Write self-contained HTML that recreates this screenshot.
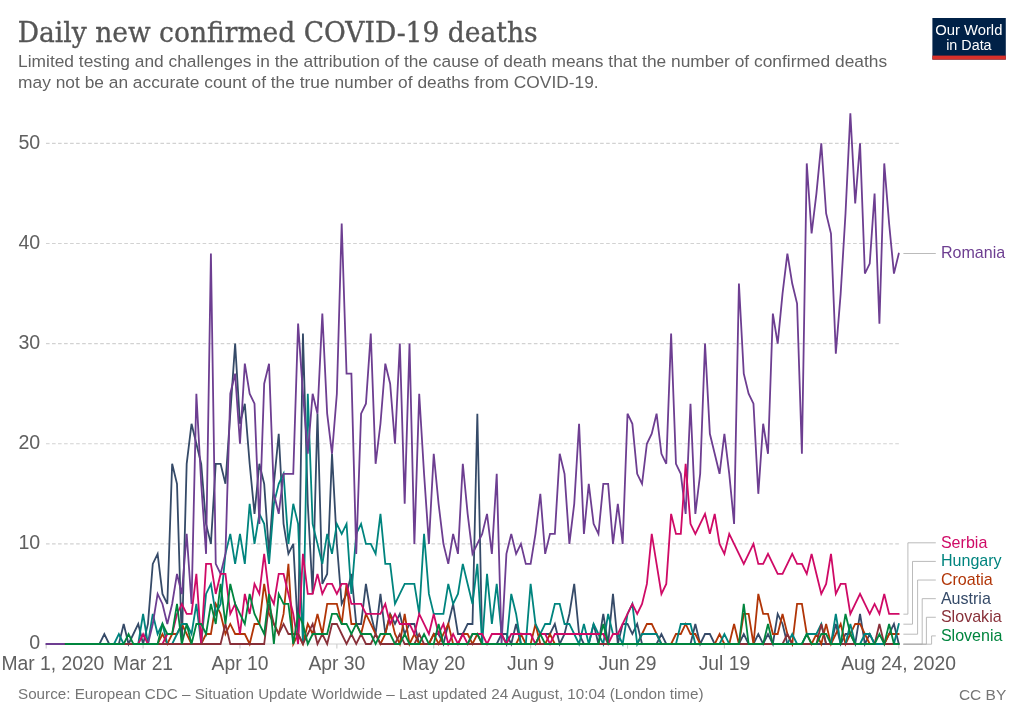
<!DOCTYPE html>
<html lang="en">
<head>
<meta charset="utf-8">
<title>Daily new confirmed COVID-19 deaths</title>
<style>
html,body{margin:0;padding:0;background:#fff;}
body{width:1024px;height:722px;overflow:hidden;}
svg{display:block;}
.sans{font-family:"Liberation Sans","DejaVu Sans",sans-serif;}
.serif{font-family:"DejaVu Serif","Liberation Serif",serif;}
</style>
</head>
<body>
<svg width="1024" height="722" viewBox="0 0 1024 722">
<rect x="0" y="0" width="1024" height="722" fill="#ffffff"/>
<text class="serif" x="17.7" y="42.3" font-size="28.6" fill="#555555" stroke="#555555" stroke-width="0.35" textLength="520" lengthAdjust="spacingAndGlyphs">Daily new confirmed COVID-19 deaths</text>
<text class="sans" x="18.1" y="67" font-size="17.1" fill="#626262" textLength="869" lengthAdjust="spacingAndGlyphs">Limited testing and challenges in the attribution of the cause of death means that the number of confirmed deaths</text>
<text class="sans" x="18.1" y="87.7" font-size="17.1" fill="#626262" textLength="580.6" lengthAdjust="spacingAndGlyphs">may not be an accurate count of the true number of deaths from COVID-19.</text>
<g>
<rect x="932.4" y="18" width="73.4" height="41.6" fill="#002147"/>
<rect x="932.4" y="55.6" width="73.4" height="4" fill="#d8302a"/>
<text class="sans" x="935.2" y="35.2" font-size="15.4" fill="#ffffff" textLength="67.2" lengthAdjust="spacingAndGlyphs">Our World</text>
<text class="sans" x="946.2" y="50.4" font-size="15.4" fill="#ffffff" textLength="45.4" lengthAdjust="spacingAndGlyphs">in Data</text>
</g>
<g class="sans" font-size="19.6" fill="#606060" text-anchor="end">
<text x="40.2" y="649.4">0</text>
<line x1="46" y1="543.88" x2="899" y2="543.88" stroke="#d2d2d2" stroke-width="1.2" stroke-dasharray="3.614,2.409"/>
<text x="40.2" y="549.28">10</text>
<line x1="46" y1="443.76" x2="899" y2="443.76" stroke="#d2d2d2" stroke-width="1.2" stroke-dasharray="3.614,2.409"/>
<text x="40.2" y="449.16">20</text>
<line x1="46" y1="343.64" x2="899" y2="343.64" stroke="#d2d2d2" stroke-width="1.2" stroke-dasharray="3.614,2.409"/>
<text x="40.2" y="349.04">30</text>
<line x1="46" y1="243.52" x2="899" y2="243.52" stroke="#d2d2d2" stroke-width="1.2" stroke-dasharray="3.614,2.409"/>
<text x="40.2" y="248.92">40</text>
<line x1="46" y1="143.4" x2="899" y2="143.4" stroke="#d2d2d2" stroke-width="1.2" stroke-dasharray="3.614,2.409"/>
<text x="40.2" y="148.8">50</text>
</g>
<line x1="46" y1="644" x2="899" y2="644" stroke="#d0d0d0" stroke-width="1"/>
<g class="sans" font-size="19.3" fill="#606060" text-anchor="middle">
<line x1="46.2" y1="644" x2="46.2" y2="648.6" stroke="#cccccc" stroke-width="1.1"/>
<text x="52.9" y="669.7">Mar 1, 2020</text>
<line x1="143.09" y1="644" x2="143.09" y2="648.6" stroke="#cccccc" stroke-width="1.1"/>
<text x="143.09" y="669.7">Mar 21</text>
<line x1="239.97" y1="644" x2="239.97" y2="648.6" stroke="#cccccc" stroke-width="1.1"/>
<text x="239.97" y="669.7">Apr 10</text>
<line x1="336.86" y1="644" x2="336.86" y2="648.6" stroke="#cccccc" stroke-width="1.1"/>
<text x="336.86" y="669.7">Apr 30</text>
<line x1="433.74" y1="644" x2="433.74" y2="648.6" stroke="#cccccc" stroke-width="1.1"/>
<text x="433.74" y="669.7">May 20</text>
<line x1="530.63" y1="644" x2="530.63" y2="648.6" stroke="#cccccc" stroke-width="1.1"/>
<text x="530.63" y="669.7">Jun 9</text>
<line x1="627.52" y1="644" x2="627.52" y2="648.6" stroke="#cccccc" stroke-width="1.1"/>
<text x="627.52" y="669.7">Jun 29</text>
<line x1="724.4" y1="644" x2="724.4" y2="648.6" stroke="#cccccc" stroke-width="1.1"/>
<text x="724.4" y="669.7">Jul 19</text>
<line x1="898.8" y1="644" x2="898.8" y2="648.6" stroke="#cccccc" stroke-width="1.1"/>
<text x="898.6" y="669.7">Aug 24, 2020</text>
</g>
<g fill="none" stroke-width="1.8" stroke-linejoin="miter" stroke-miterlimit="4" stroke-linecap="round">
<polyline stroke="#354A68" points="65.58,644 70.42,644 75.27,644 80.11,644 84.95,644 89.8,644 94.64,644 99.49,644 104.33,633.99 109.18,644 114.02,644 118.86,644 123.71,623.98 128.55,644 133.4,633.99 138.24,623.98 143.09,644 147.93,623.98 152.77,563.9 157.62,553.89 162.46,593.94 167.31,603.95 172.15,463.78 177,483.81 181.84,644 186.68,463.78 191.53,423.74 196.37,443.76 201.22,463.78 206.06,523.86 210.91,543.88 215.75,463.78 220.59,463.78 225.44,483.81 230.28,413.72 235.13,343.64 239.97,423.74 244.82,403.71 249.66,463.78 254.5,513.84 259.35,463.78 264.19,483.81 269.04,553.89 273.88,483.81 278.73,433.75 283.57,523.86 288.41,553.89 293.26,543.88 298.1,633.99 302.95,333.63 307.79,503.83 312.64,593.94 317.48,413.72 322.33,583.93 327.17,573.92 332.01,453.77 336.86,543.88 341.7,603.95 346.55,593.94 351.39,573.92 356.24,623.98 361.08,623.98 365.92,583.93 370.77,613.96 375.61,633.99 380.46,593.94 385.3,633.99 390.15,613.96 394.99,623.98 399.83,613.96 404.68,633.99 409.52,623.98 414.37,623.98 419.21,644 424.06,644 428.9,644 433.74,633.99 438.59,633.99 443.43,644 448.28,623.98 453.12,603.95 457.97,633.99 462.81,633.99 467.65,623.98 472.5,623.98 477.34,413.72 482.19,644 487.03,644 491.88,644 496.72,644 501.56,633.99 506.41,633.99 511.25,644 516.1,623.98 520.94,644 525.79,644 530.63,644 535.47,644 540.32,633.99 545.16,633.99 550.01,633.99 554.85,623.98 559.7,644 564.54,633.99 569.38,613.96 574.23,583.93 579.07,633.99 583.92,644 588.76,644 593.61,623.98 598.45,644 603.29,613.96 608.14,644 612.98,593.94 617.83,644 622.67,623.98 627.52,623.98 632.36,633.99 637.2,623.98 642.05,644 646.89,644 651.74,644 656.58,644 661.43,633.99 666.27,644 671.11,644 675.96,644 680.8,644 685.65,644 690.49,644 695.34,623.98 700.18,644 705.02,633.99 709.87,633.99 714.71,644 719.56,644 724.4,644 729.25,644 734.09,644 738.93,644 743.78,633.99 748.62,644 753.47,644 758.31,633.99 763.16,644 768,633.99 772.85,644 777.69,613.96 782.53,623.98 787.38,644 792.22,644 797.07,644 801.91,644 806.76,644 811.6,644 816.44,644 821.29,644 826.13,644 830.98,644 835.82,623.98 840.67,644 845.51,633.99 850.35,633.99 855.2,644 860.04,613.96 864.89,644 869.73,633.99 874.58,644 879.42,644 884.26,644 889.11,633.99 893.95,623.98 898.8,644"/>
<polyline stroke="#B13507" points="65.58,644 70.42,644 75.27,644 80.11,644 84.95,644 89.8,644 94.64,644 99.49,644 104.33,644 109.18,644 114.02,644 118.86,644 123.71,644 128.55,644 133.4,644 138.24,644 143.09,644 147.93,644 152.77,644 157.62,644 162.46,633.99 167.31,644 172.15,633.99 177,633.99 181.84,623.98 186.68,633.99 191.53,644 196.37,644 201.22,644 206.06,633.99 210.91,633.99 215.75,603.95 220.59,613.96 225.44,633.99 230.28,623.98 235.13,633.99 239.97,633.99 244.82,633.99 249.66,644 254.5,623.98 259.35,623.98 264.19,583.93 269.04,613.96 273.88,623.98 278.73,633.99 283.57,613.96 288.41,563.9 293.26,644 298.1,633.99 302.95,644 307.79,623.98 312.64,633.99 317.48,613.96 322.33,633.99 327.17,603.95 332.01,603.95 336.86,603.95 341.7,623.98 346.55,583.93 351.39,623.98 356.24,623.98 361.08,633.99 365.92,613.96 370.77,623.98 375.61,633.99 380.46,644 385.3,633.99 390.15,613.96 394.99,633.99 399.83,644 404.68,613.96 409.52,644 414.37,633.99 419.21,644 424.06,644 428.9,644 433.74,633.99 438.59,644 443.43,633.99 448.28,623.98 453.12,644 457.97,644 462.81,633.99 467.65,633.99 472.5,644 477.34,633.99 482.19,644 487.03,644 491.88,644 496.72,644 501.56,644 506.41,644 511.25,644 516.1,644 520.94,633.99 525.79,644 530.63,644 535.47,623.98 540.32,644 545.16,644 550.01,633.99 554.85,644 559.7,644 564.54,644 569.38,644 574.23,644 579.07,644 583.92,644 588.76,644 593.61,644 598.45,644 603.29,644 608.14,644 612.98,644 617.83,644 622.67,644 627.52,644 632.36,644 637.2,644 642.05,633.99 646.89,623.98 651.74,623.98 656.58,633.99 661.43,644 666.27,644 671.11,644 675.96,633.99 680.8,633.99 685.65,623.98 690.49,633.99 695.34,633.99 700.18,644 705.02,644 709.87,644 714.71,644 719.56,633.99 724.4,644 729.25,644 734.09,623.98 738.93,644 743.78,613.96 748.62,613.96 753.47,644 758.31,593.94 763.16,613.96 768,613.96 772.85,633.99 777.69,633.99 782.53,613.96 787.38,633.99 792.22,644 797.07,603.95 801.91,603.95 806.76,633.99 811.6,644 816.44,633.99 821.29,644 826.13,623.98 830.98,644 835.82,633.99 840.67,623.98 845.51,644 850.35,633.99 855.2,623.98 860.04,623.98 864.89,633.99 869.73,644 874.58,644 879.42,644 884.26,644 889.11,633.99 893.95,633.99 898.8,633.99"/>
<polyline stroke="#00847E" points="65.58,644 70.42,644 75.27,644 80.11,644 84.95,644 89.8,644 94.64,644 99.49,644 104.33,644 109.18,644 114.02,644 118.86,633.99 123.71,644 128.55,644 133.4,644 138.24,644 143.09,613.96 147.93,644 152.77,613.96 157.62,633.99 162.46,623.98 167.31,644 172.15,644 177,633.99 181.84,623.98 186.68,623.98 191.53,633.99 196.37,603.95 201.22,644 206.06,593.94 210.91,583.93 215.75,613.96 220.59,603.95 225.44,553.89 230.28,533.87 235.13,563.9 239.97,533.87 244.82,563.9 249.66,503.83 254.5,543.88 259.35,513.84 264.19,523.86 269.04,563.9 273.88,503.83 278.73,483.81 283.57,473.8 288.41,543.88 293.26,503.83 298.1,523.86 302.95,644 307.79,393.7 312.64,523.86 317.48,543.88 322.33,563.9 327.17,533.87 332.01,553.89 336.86,523.86 341.7,533.87 346.55,523.86 351.39,593.94 356.24,533.87 361.08,523.86 365.92,543.88 370.77,543.88 375.61,553.89 380.46,513.84 385.3,563.9 390.15,563.9 394.99,603.95 399.83,593.94 404.68,583.93 409.52,583.93 414.37,583.93 419.21,613.96 424.06,533.87 428.9,593.94 433.74,613.96 438.59,613.96 443.43,613.96 448.28,583.93 453.12,603.95 457.97,593.94 462.81,563.9 467.65,583.93 472.5,603.95 477.34,563.9 482.19,644 487.03,573.92 491.88,623.98 496.72,583.93 501.56,633.99 506.41,644 511.25,593.94 516.1,613.96 520.94,644 525.79,644 530.63,583.93 535.47,623.98 540.32,633.99 545.16,623.98 550.01,623.98 554.85,603.95 559.7,603.95 564.54,623.98 569.38,623.98 574.23,633.99 579.07,644 583.92,623.98 588.76,644 593.61,623.98 598.45,633.99 603.29,644 608.14,613.96 612.98,633.99 617.83,633.99 622.67,644 627.52,613.96 632.36,603.95 637.2,644 642.05,633.99 646.89,633.99 651.74,633.99 656.58,633.99 661.43,644 666.27,644 671.11,644 675.96,644 680.8,623.98 685.65,623.98 690.49,623.98 695.34,644 700.18,644 705.02,644 709.87,644 714.71,644 719.56,644 724.4,633.99 729.25,644 734.09,644 738.93,644 743.78,644 748.62,644 753.47,644 758.31,644 763.16,644 768,644 772.85,644 777.69,644 782.53,644 787.38,644 792.22,633.99 797.07,644 801.91,644 806.76,633.99 811.6,633.99 816.44,633.99 821.29,623.98 826.13,644 830.98,644 835.82,613.96 840.67,644 845.51,644 850.35,623.98 855.2,644 860.04,644 864.89,633.99 869.73,633.99 874.58,644 879.42,644 884.26,644 889.11,644 893.95,644 898.8,623.98"/>
<polyline stroke="#6D3E91" points="46.2,644 51.04,644 55.89,644 60.73,644 65.58,644 70.42,644 75.27,644 80.11,644 84.95,644 89.8,644 94.64,644 99.49,644 104.33,644 109.18,644 114.02,644 118.86,644 123.71,644 128.55,644 133.4,644 138.24,644 143.09,644 147.93,644 152.77,623.98 157.62,593.94 162.46,603.95 167.31,623.98 172.15,603.95 177,573.92 181.84,593.94 186.68,533.87 191.53,603.95 196.37,393.7 201.22,483.81 206.06,553.89 210.91,253.53 215.75,563.9 220.59,573.92 225.44,553.89 230.28,393.7 235.13,373.68 239.97,443.76 244.82,363.66 249.66,393.7 254.5,403.71 259.35,523.86 264.19,383.69 269.04,363.66 273.88,493.82 278.73,513.84 283.57,473.8 288.41,473.8 293.26,473.8 298.1,323.62 302.95,393.7 307.79,453.77 312.64,393.7 317.48,413.72 322.33,313.6 327.17,413.72 332.01,453.77 336.86,393.7 341.7,223.5 346.55,373.68 351.39,373.68 356.24,553.89 361.08,413.72 365.92,403.71 370.77,333.63 375.61,463.78 380.46,423.74 385.3,363.66 390.15,383.69 394.99,443.76 399.83,343.64 404.68,503.83 409.52,343.64 414.37,543.88 419.21,393.7 424.06,473.8 428.9,543.88 433.74,453.77 438.59,503.83 443.43,543.88 448.28,563.9 453.12,533.87 457.97,553.89 462.81,463.78 467.65,513.84 472.5,553.89 477.34,543.88 482.19,533.87 487.03,513.84 491.88,553.89 496.72,473.8 501.56,644 506.41,553.89 511.25,533.87 516.1,553.89 520.94,543.88 525.79,563.9 530.63,563.9 535.47,533.87 540.32,493.82 545.16,553.89 550.01,533.87 554.85,533.87 559.7,453.77 564.54,473.8 569.38,543.88 574.23,503.83 579.07,423.74 583.92,533.87 588.76,483.81 593.61,523.86 598.45,533.87 603.29,483.81 608.14,483.81 612.98,543.88 617.83,503.83 622.67,543.88 627.52,413.72 632.36,423.74 637.2,473.8 642.05,483.81 646.89,443.76 651.74,433.75 656.58,413.72 661.43,453.77 666.27,463.78 671.11,333.63 675.96,463.78 680.8,473.8 685.65,513.84 690.49,403.71 695.34,513.84 700.18,473.8 705.02,343.64 709.87,433.75 714.71,453.77 719.56,473.8 724.4,433.75 729.25,473.8 734.09,523.86 738.93,283.57 743.78,373.68 748.62,393.7 753.47,403.71 758.31,493.82 763.16,423.74 768,453.77 772.85,313.6 777.69,343.64 782.53,293.58 787.38,253.53 792.22,283.57 797.07,303.59 801.91,453.77 806.76,163.42 811.6,233.51 816.44,193.46 821.29,143.4 826.13,213.48 830.98,233.51 835.82,353.65 840.67,293.58 845.51,213.48 850.35,113.36 855.2,203.47 860.04,143.4 864.89,273.56 869.73,263.54 874.58,193.46 879.42,323.62 884.26,163.42 889.11,223.5 893.95,273.56 898.8,253.53"/>
<polyline stroke="#CF0A66" points="65.58,644 70.42,644 75.27,644 80.11,644 84.95,644 89.8,644 94.64,644 99.49,644 104.33,644 109.18,644 114.02,644 118.86,644 123.71,644 128.55,644 133.4,644 138.24,644 143.09,633.99 147.93,644 152.77,644 157.62,644 162.46,644 167.31,633.99 172.15,633.99 177,613.96 181.84,603.95 186.68,613.96 191.53,613.96 196.37,573.92 201.22,644 206.06,563.9 210.91,563.9 215.75,593.94 220.59,573.92 225.44,573.92 230.28,613.96 235.13,603.95 239.97,633.99 244.82,593.94 249.66,613.96 254.5,583.93 259.35,593.94 264.19,553.89 269.04,593.94 273.88,603.95 278.73,573.92 283.57,573.92 288.41,593.94 293.26,613.96 298.1,644 302.95,553.89 307.79,593.94 312.64,593.94 317.48,573.92 322.33,593.94 327.17,583.93 332.01,583.93 336.86,593.94 341.7,583.93 346.55,583.93 351.39,603.95 356.24,603.95 361.08,603.95 365.92,613.96 370.77,613.96 375.61,613.96 380.46,613.96 385.3,603.95 390.15,623.98 394.99,613.96 399.83,623.98 404.68,623.98 409.52,623.98 414.37,633.99 419.21,613.96 424.06,623.98 428.9,633.99 433.74,613.96 438.59,633.99 443.43,623.98 448.28,644 453.12,633.99 457.97,644 462.81,633.99 467.65,644 472.5,633.99 477.34,633.99 482.19,633.99 487.03,644 491.88,633.99 496.72,633.99 501.56,633.99 506.41,644 511.25,633.99 516.1,633.99 520.94,633.99 525.79,633.99 530.63,633.99 535.47,644 540.32,633.99 545.16,633.99 550.01,644 554.85,633.99 559.7,633.99 564.54,633.99 569.38,633.99 574.23,633.99 579.07,633.99 583.92,633.99 588.76,633.99 593.61,633.99 598.45,633.99 603.29,633.99 608.14,644 612.98,633.99 617.83,633.99 622.67,623.98 627.52,613.96 632.36,603.95 637.2,613.96 642.05,603.95 646.89,583.93 651.74,533.87 656.58,563.9 661.43,593.94 666.27,583.93 671.11,513.84 675.96,533.87 680.8,533.87 685.65,463.78 690.49,523.86 695.34,533.87 700.18,523.86 705.02,513.84 709.87,533.87 714.71,513.84 719.56,543.88 724.4,553.89 729.25,533.87 734.09,543.88 738.93,553.89 743.78,563.9 748.62,553.89 753.47,543.88 758.31,563.9 763.16,563.9 768,553.89 772.85,563.9 777.69,573.92 782.53,573.92 787.38,563.9 792.22,553.89 797.07,563.9 801.91,563.9 806.76,573.92 811.6,553.89 816.44,573.92 821.29,593.94 826.13,583.93 830.98,553.89 835.82,593.94 840.67,583.93 845.51,583.93 850.35,613.96 855.2,603.95 860.04,593.94 864.89,603.95 869.73,613.96 874.58,603.95 879.42,613.96 884.26,593.94 889.11,613.96 893.95,613.96 898.8,613.96"/>
<polyline stroke="#883039" points="65.58,644 70.42,644 75.27,644 80.11,644 84.95,644 89.8,644 94.64,644 99.49,644 104.33,644 109.18,644 114.02,644 118.86,644 123.71,644 128.55,644 133.4,644 138.24,644 143.09,644 147.93,644 152.77,644 157.62,644 162.46,644 167.31,644 172.15,644 177,644 181.84,644 186.68,644 191.53,644 196.37,644 201.22,644 206.06,644 210.91,644 215.75,644 220.59,644 225.44,623.98 230.28,644 235.13,644 239.97,644 244.82,644 249.66,644 254.5,644 259.35,644 264.19,644 269.04,603.95 273.88,623.98 278.73,633.99 283.57,623.98 288.41,633.99 293.26,633.99 298.1,633.99 302.95,644 307.79,633.99 312.64,623.98 317.48,644 322.33,633.99 327.17,644 332.01,623.98 336.86,623.98 341.7,633.99 346.55,644 351.39,633.99 356.24,644 361.08,633.99 365.92,644 370.77,644 375.61,633.99 380.46,644 385.3,644 390.15,644 394.99,644 399.83,633.99 404.68,644 409.52,644 414.37,644 419.21,633.99 424.06,644 428.9,644 433.74,644 438.59,644 443.43,644 448.28,644 453.12,644 457.97,644 462.81,644 467.65,644 472.5,644 477.34,644 482.19,644 487.03,644 491.88,644 496.72,644 501.56,644 506.41,644 511.25,644 516.1,644 520.94,644 525.79,644 530.63,644 535.47,644 540.32,644 545.16,644 550.01,644 554.85,644 559.7,644 564.54,644 569.38,644 574.23,644 579.07,644 583.92,644 588.76,644 593.61,644 598.45,644 603.29,644 608.14,644 612.98,644 617.83,644 622.67,644 627.52,644 632.36,644 637.2,644 642.05,644 646.89,644 651.74,644 656.58,644 661.43,644 666.27,644 671.11,644 675.96,644 680.8,644 685.65,644 690.49,644 695.34,644 700.18,644 705.02,644 709.87,644 714.71,644 719.56,644 724.4,644 729.25,644 734.09,644 738.93,644 743.78,644 748.62,644 753.47,644 758.31,644 763.16,644 768,644 772.85,644 777.69,644 782.53,644 787.38,633.99 792.22,644 797.07,644 801.91,644 806.76,644 811.6,644 816.44,644 821.29,623.98 826.13,644 830.98,644 835.82,644 840.67,644 845.51,644 850.35,644 855.2,644 860.04,644 864.89,644 869.73,644 874.58,644 879.42,623.98 884.26,644 889.11,644 893.95,644 898.8,644"/>
<polyline stroke="#00853E" points="65.58,644 70.42,644 75.27,644 80.11,644 84.95,644 89.8,644 94.64,644 99.49,644 104.33,644 109.18,644 114.02,644 118.86,644 123.71,644 128.55,633.99 133.4,644 138.24,644 143.09,644 147.93,644 152.77,644 157.62,644 162.46,623.98 167.31,633.99 172.15,633.99 177,603.95 181.84,644 186.68,623.98 191.53,644 196.37,623.98 201.22,623.98 206.06,633.99 210.91,603.95 215.75,623.98 220.59,583.93 225.44,623.98 230.28,583.93 235.13,603.95 239.97,613.96 244.82,623.98 249.66,593.94 254.5,613.96 259.35,623.98 264.19,633.99 269.04,593.94 273.88,644 278.73,593.94 283.57,603.95 288.41,603.95 293.26,644 298.1,613.96 302.95,623.98 307.79,644 312.64,633.99 317.48,633.99 322.33,633.99 327.17,633.99 332.01,613.96 336.86,613.96 341.7,623.98 346.55,623.98 351.39,633.99 356.24,623.98 361.08,633.99 365.92,633.99 370.77,633.99 375.61,644 380.46,633.99 385.3,633.99 390.15,633.99 394.99,644 399.83,644 404.68,633.99 409.52,644 414.37,644 419.21,644 424.06,633.99 428.9,644 433.74,644 438.59,623.98 443.43,644 448.28,644 453.12,644 457.97,644 462.81,644 467.65,644 472.5,633.99 477.34,633.99 482.19,644 487.03,644 491.88,644 496.72,644 501.56,644 506.41,644 511.25,644 516.1,644 520.94,644 525.79,644 530.63,644 535.47,644 540.32,633.99 545.16,644 550.01,644 554.85,644 559.7,644 564.54,644 569.38,644 574.23,644 579.07,644 583.92,644 588.76,644 593.61,644 598.45,644 603.29,623.98 608.14,644 612.98,644 617.83,644 622.67,644 627.52,644 632.36,644 637.2,644 642.05,644 646.89,644 651.74,644 656.58,644 661.43,644 666.27,644 671.11,644 675.96,644 680.8,644 685.65,644 690.49,644 695.34,644 700.18,644 705.02,644 709.87,644 714.71,644 719.56,644 724.4,644 729.25,644 734.09,644 738.93,644 743.78,603.95 748.62,644 753.47,644 758.31,644 763.16,644 768,623.98 772.85,644 777.69,644 782.53,644 787.38,644 792.22,644 797.07,644 801.91,644 806.76,633.99 811.6,644 816.44,644 821.29,633.99 826.13,633.99 830.98,644 835.82,644 840.67,644 845.51,613.96 850.35,633.99 855.2,644 860.04,644 864.89,644 869.73,644 874.58,644 879.42,633.99 884.26,644 889.11,623.98 893.95,644 898.8,644"/>
</g>
<g class="sans" font-size="15.7">
<path d="M903.4,253.5 H935.8" stroke="#aaaaaa" stroke-width="0.8" fill="none"/>
<path d="M903.4,614.16 H907.9 V542.8 H935.8" stroke="#aaaaaa" stroke-width="0.8" fill="none"/>
<path d="M903.4,624.18 H912.5 V561.42 H935.8" stroke="#aaaaaa" stroke-width="0.8" fill="none"/>
<path d="M903.4,634.19 H917.6 V580.04 H935.8" stroke="#aaaaaa" stroke-width="0.8" fill="none"/>
<path d="M903.4,644.2 H922.2 V598.66 H935.8" stroke="#aaaaaa" stroke-width="0.8" fill="none"/>
<path d="M903.4,644.2 H926.4 V617.28 H935.8" stroke="#aaaaaa" stroke-width="0.8" fill="none"/>
<path d="M903.4,644.2 H931.6 V635.9 H935.8" stroke="#aaaaaa" stroke-width="0.8" fill="none"/>
<text x="940.9" y="258.35" fill="#6D3E91" textLength="64.27" lengthAdjust="spacingAndGlyphs">Romania</text>
<text x="940.9" y="547.65" fill="#CF0A66" textLength="46.45" lengthAdjust="spacingAndGlyphs">Serbia</text>
<text x="940.9" y="566.27" fill="#00847E" textLength="60.77" lengthAdjust="spacingAndGlyphs">Hungary</text>
<text x="940.9" y="584.89" fill="#B13507" textLength="51.81" lengthAdjust="spacingAndGlyphs">Croatia</text>
<text x="940.9" y="603.51" fill="#354A68" textLength="49.95" lengthAdjust="spacingAndGlyphs">Austria</text>
<text x="940.9" y="622.13" fill="#883039" textLength="60.77" lengthAdjust="spacingAndGlyphs">Slovakia</text>
<text x="940.9" y="640.75" fill="#00853E" textLength="61.59" lengthAdjust="spacingAndGlyphs">Slovenia</text>
</g>
<text class="sans" x="18" y="699.4" font-size="15.5" fill="#757575" textLength="685.5" lengthAdjust="spacingAndGlyphs">Source: European CDC – Situation Update Worldwide – Last updated 24 August, 10:04 (London time)</text>
<text class="sans" x="1006.3" y="699.6" font-size="15.5" fill="#757575" text-anchor="end">CC BY</text>
</svg>
</body>
</html>
